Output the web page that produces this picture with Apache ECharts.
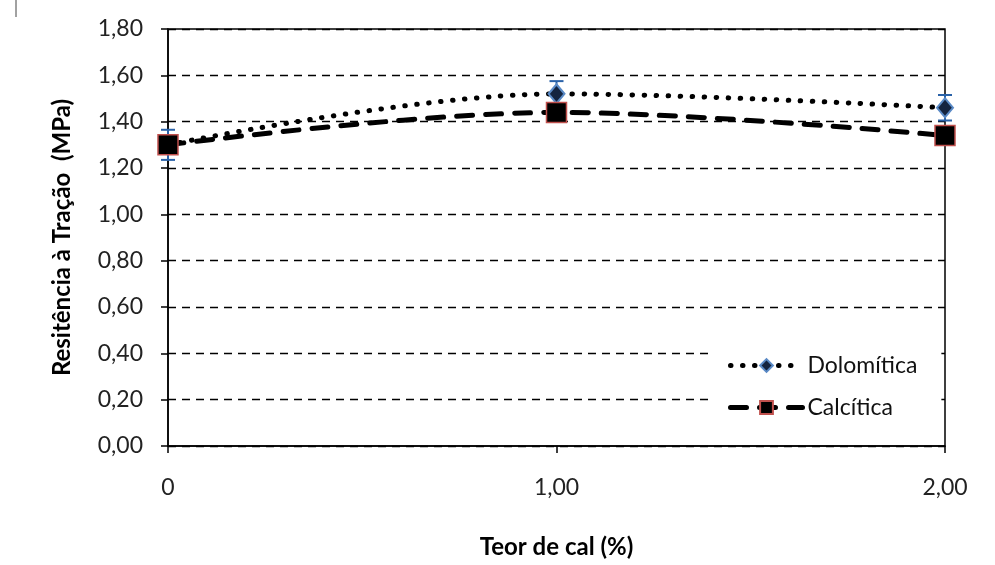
<!DOCTYPE html>
<html>
<head>
<meta charset="utf-8">
<script src="https://cdn.jsdelivr.net/npm/echarts@6/dist/echarts.min.js"></script>
<style>
  html, body { margin: 0; padding: 0; background: #fff; }
  #chart { width: 995px; height: 565px; }
</style>
</head>
<body>
<div id="chart"></div>
<script>
// teor de cal (%)
var teor = [0, 1, 2];
var dolomitica = [1.30, 1.52, 1.46];
var calcitica = [1.30, 1.44, 1.34];
// desvio (barras de erro, dolomítica)
var erroDolo = [0.065, 0.055, 0.055];
var yTicks = [0, 0.2, 0.4, 0.6, 0.8, 1.0, 1.2, 1.4, 1.6, 1.8];

function virgula(v, casas) {
  return v.toFixed(casas).replace('.', ',');
}

var chart = echarts.init(document.getElementById('chart'));

var erroData = teor.map(function (x, i) {
  return [x, dolomitica[i] - erroDolo[i], dolomitica[i] + erroDolo[i]];
});

chart.setOption({
  animation: false,
  textStyle: { fontFamily: 'Lato' },
  grid: {
    left: 168,
    right: 50,
    top: 29,
    bottom: 119,
    show: true,
    borderColor: '#000',
    borderWidth: 1.5
  },
  legend: {
    orient: 'vertical',
    left: 712,
    top: 345,
    padding: [9, 24, 16, 16],
    itemGap: 19,
    itemWidth: 72,
    itemHeight: 16,
    backgroundColor: '#fff',
    textStyle: { fontSize: 23, color: '#111', fontFamily: 'Lato' },
    data: [
      { name: 'Dolomítica', lineStyle: { width: 5 } },
      { name: 'Calcítica', lineStyle: { width: 5 } }
    ]
  },
  xAxis: {
    type: 'value',
    min: 0,
    max: 2,
    interval: 1,
    axisLine: { lineStyle: { color: '#000', width: 1.5 } },
    axisTick: { show: true, length: 7, lineStyle: { color: '#000', width: 1.5 } },
    axisLabel: {
      fontSize: 23,
      color: '#222',
      margin: 30,
      formatter: function (v) { return v === 0 ? '0' : virgula(v, 2); }
    },
    splitLine: { show: false },
    name: 'Teor de cal (%)',
    nameLocation: 'middle',
    nameGap: 89,
    nameTextStyle: { fontSize: 24, fontWeight: 'bold', color: '#000' }
  },
  yAxis: {
    type: 'value',
    min: 0,
    max: 1.8,
    interval: 0.2,
    axisLine: { show: true, lineStyle: { color: '#000', width: 1.5 } },
    axisTick: { show: true, length: 7, lineStyle: { color: '#000', width: 1.5 } },
    axisLabel: {
      fontSize: 23,
      color: '#222',
      margin: 25,
      formatter: function (v) { return virgula(v, 2); }
    },
    splitLine: {
      show: true,
      lineStyle: { color: '#000', type: [8, 6], width: 1.3 }
    },
    name: 'Resitência à Tração  (MPa)',
    nameLocation: 'middle',
    nameGap: 94,
    nameTextStyle: { fontSize: 24, fontWeight: 'bold', color: '#000' }
  },
  series: [
    {
      name: 'erro',
      type: 'custom',
      z: 1,
      silent: true,
      data: erroData,
      renderItem: function (params, api) {
        var x = api.value(0);
        var lo = api.coord([x, api.value(1)]);
        var hi = api.coord([x, api.value(2)]);
        var w = 7;
        var st = { stroke: '#2a62a8', lineWidth: 2 };
        return {
          type: 'group',
          children: [
            { type: 'line', shape: { x1: lo[0], y1: lo[1], x2: hi[0], y2: hi[1] }, style: st },
            { type: 'line', shape: { x1: lo[0] - w, y1: lo[1], x2: lo[0] + w, y2: lo[1] }, style: st },
            { type: 'line', shape: { x1: hi[0] - w, y1: hi[1], x2: hi[0] + w, y2: hi[1] }, style: st }
          ]
        };
      }
    },
    {
      name: 'Dolomítica',
      type: 'line',
      smooth: 0.35,
      z: 3,
      data: teor.map(function (x, i) { return [x, dolomitica[i]]; }),
      symbol: 'diamond',
      symbolSize: [16, 19],
      itemStyle: { color: '#14243f', borderColor: '#5a8ac6', borderWidth: 2 },
      lineStyle: { color: '#000', width: 5, type: [0.5, 11.5], cap: 'round' }
    },
    {
      name: 'Calcítica',
      type: 'line',
      smooth: 0.35,
      z: 4,
      data: teor.map(function (x, i) { return [x, calcitica[i]]; }),
      symbol: 'rect',
      symbolSize: 20,
      itemStyle: { color: '#000', borderColor: '#c0504d', borderWidth: 1.5 },
      lineStyle: { color: '#000', width: 5, type: [16, 13], cap: 'round' }
    }
  ],
  graphic: [
    {
      type: 'line',
      shape: { x1: 16, y1: 0, x2: 16, y2: 17 },
      style: { stroke: '#444', lineWidth: 1 }
    }
  ]
});
</script>
</body>
</html>
